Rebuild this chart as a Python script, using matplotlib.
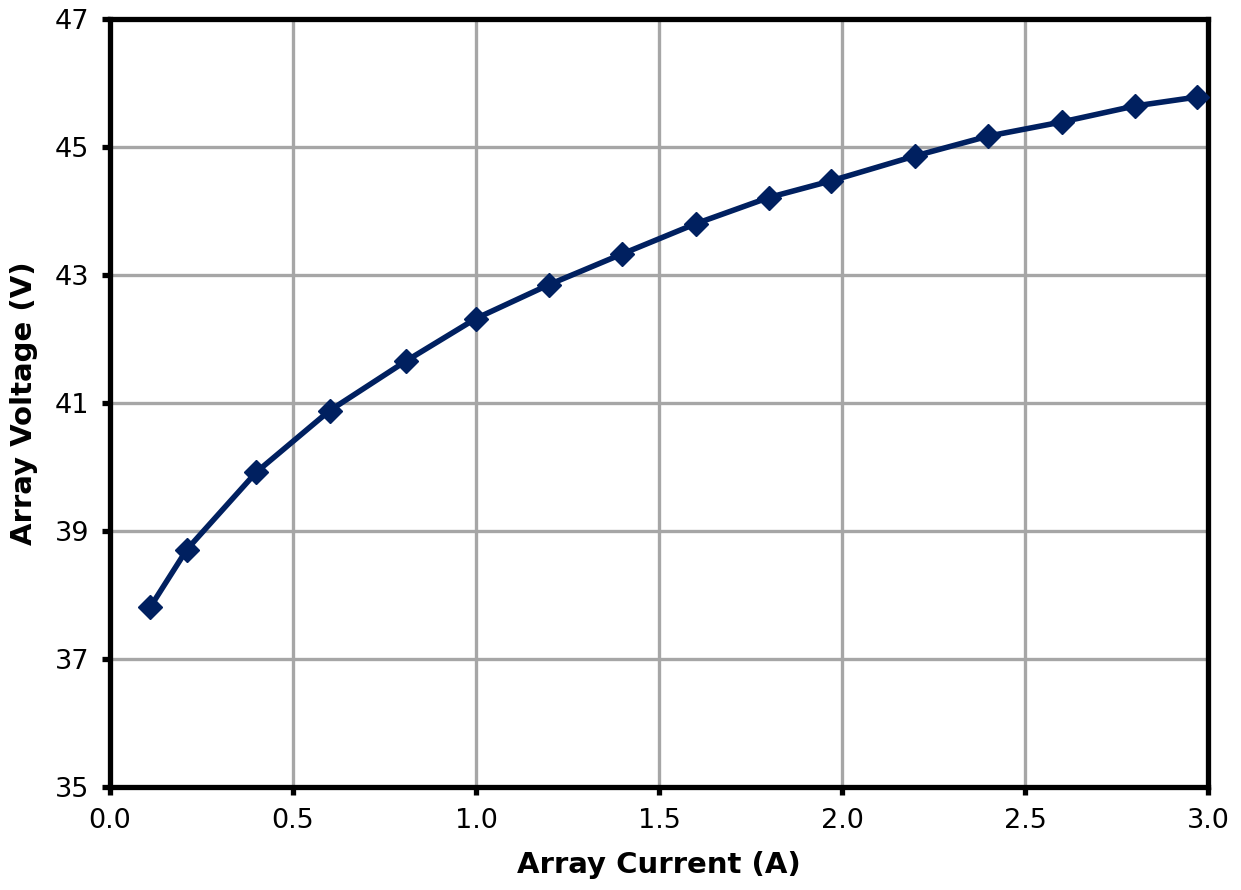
import matplotlib
matplotlib.use("Agg")
from matplotlib import pyplot as plt

# array current (A) vs array voltage (V)
current = [0.11, 0.21, 0.40, 0.60, 0.81, 1.00, 1.20, 1.40, 1.60, 1.80, 1.97, 2.20, 2.40, 2.60, 2.80, 2.97]
voltage = [37.81, 38.71, 39.92, 40.88, 41.66, 42.32, 42.85, 43.33, 43.80, 44.21, 44.47, 44.86, 45.17, 45.39, 45.64, 45.78]

x_ticks = [0.0, 0.5, 1.0, 1.5, 2.0, 2.5, 3.0]
y_ticks = [35, 37, 39, 41, 43, 45, 47]

plt.rcParams['font.family'] = ['DejaVu Sans']

fig = plt.figure(figsize=(12.41, 8.90), dpi=100)
ax = fig.add_axes([0.0886, 0.1157, 0.8848, 0.8630])

ax.plot(current, voltage, color="#002060", lw=4, marker="D", ms=12,
        clip_on=False, zorder=3)

ax.set_xlim(0, 3)
ax.set_ylim(35, 47)
ax.set_xticks(x_ticks)
ax.set_xticklabels(["%.1f" % t for t in x_ticks])
ax.set_yticks(y_ticks)

ax.grid(True, color="#a6a6a6", lw=2.4)
ax.set_axisbelow(True)
for s in ax.spines.values():
    s.set_linewidth(3.8)
    s.set_color("black")
ax.tick_params(direction="out", length=6, width=3.8, labelsize=19.5, pad=9)

ax.set_xlabel("Array Current (A)", fontsize=21, fontweight="bold", labelpad=12)
ax.set_ylabel("Array Voltage (V)", fontsize=21, fontweight="bold", labelpad=12)

fig.savefig("out.png", dpi=100)
